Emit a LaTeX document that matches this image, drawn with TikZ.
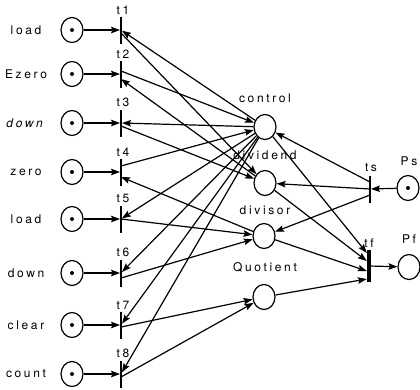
\documentclass[tikz,border=0pt]{standalone}
\usepackage{fontspec}
\setmainfont{TeX Gyre Heros}[LetterSpace=22]
\usetikzlibrary{arrows.meta,shapes.geometric}

\tikzset{
  place/.style={draw,ellipse,line width=1.2pt,minimum width=22pt,minimum height=25pt,inner sep=0pt},
  token/.style={circle,fill=black,minimum size=4pt,inner sep=0pt},
  trans/.style={fill=black,minimum width=1.5pt,minimum height=27pt,inner sep=0pt},
  arc/.style={line width=1.2pt,-{Stealth[length=9pt,width=6.5pt,inset=1.5pt]}},
  lbl/.style={font=\fontsize{12}{14}\selectfont,inner sep=0pt}
}

\begin{document}
\begin{tikzpicture}[x=1pt,y=-1pt]
    \useasboundingbox (0,0) rectangle (420,389);

    % Input places with their transitions
    \foreach \i/\y/\name in {1/30/load,2/74/Ezero,3/123/\textit{down},4/172/zero,
                             5/219/load,6/273/down,7/325/clear,8/374/count}{
        \node[lbl] (n\i) at (26,\y) {\name};
        \node[place] (p\i) at (72,\y) {};
        \node[token] (k\i) at (p\i) {};
        \node[trans] (t\i) at (121,\y) {};
        \node[lbl,anchor=south] (lt\i) at ([xshift=2pt,yshift=2pt]t\i.north) {t\i};
        \draw[arc] (p\i) -- (t\i);
    }

    % Registers
    \node[place] (control) at (265,127) {};
    \node[lbl] (lcontrol) at (265,98) {control};
    \node[place] (dividend) at (265,183) {};
    \node[lbl] (ldividend) at (265,155) {dividend};
    \node[place] (divisor) at (264,236) {};
    \node[lbl] (ldivisor) at (265,210) {divisor};
    \node[place] (quotient) at (264,297) {};
    \node[lbl] (lquotient) at (265,267) {Quotient};

    % Start and finish
    \node[trans] (ts) at (370,189) {};
    \node[lbl] (lts) at (371,168) {ts};
    \node[place] (ps) at (408,188) {};
    \node[token] (kps) at (ps) {};
    \node[lbl] (lps) at (409,161) {Ps};
    \node[trans,minimum width=4pt,minimum height=32pt] (tf) at (369,266) {};
    \node[lbl] (ltf) at (369,243) {tf};
    \node[place] (pf) at (409,267) {};
    \node[lbl] (lpf) at (409,239) {Pf};

    % Arcs of t1 .. t8
    \draw[arc] (control) -- (t1);
    \draw[arc] ([yshift=-3pt]t1.center) -- (dividend);
    \draw[arc] ([yshift=3pt]t2.center) -- (control);
    \draw[arc] (dividend) -- ([yshift=-5pt]t2.center);
    \draw[arc] (control) -- (t3);
    \draw[arc] ([yshift=-3pt]t3.center) -- (dividend);
    \draw[arc] ([yshift=6pt]t4.center) -- (control);
    \draw[arc] (divisor) -- ([yshift=-5pt]t4.center);
    \draw[arc] (control) -- (t5);
    \draw[arc] (t5) -- (divisor);
    \draw[arc] (control) -- (t6);
    \draw[arc] ([yshift=-5pt]t6.center) -- (divisor);
    \draw[arc] (control) -- (t7);
    \draw[arc] ([yshift=-2pt]t7.center) -- (quotient);
    \draw[arc] (control) -- (t8);
    \draw[arc] ([yshift=-3pt]t8.center) -- (quotient);

    % Arcs of ts and tf
    \draw[arc] (ps) -- (ts);
    \draw[arc] ([yshift=7pt]ts.center) -- (control);
    \draw[arc] (ts) -- (dividend);
    \draw[arc] ([yshift=-6pt]ts.center) -- (divisor);
    \draw[arc] (control) -- ([yshift=13pt]tf.west);
    \draw[arc] (dividend) -- ([yshift=5pt]tf.west);
    \draw[arc] (divisor) -- ([yshift=-5pt]tf.west);
    \draw[arc] (quotient) -- ([yshift=-13pt]tf.west);
    \draw[arc] (tf) -- (pf);
\end{tikzpicture}
\end{document}
